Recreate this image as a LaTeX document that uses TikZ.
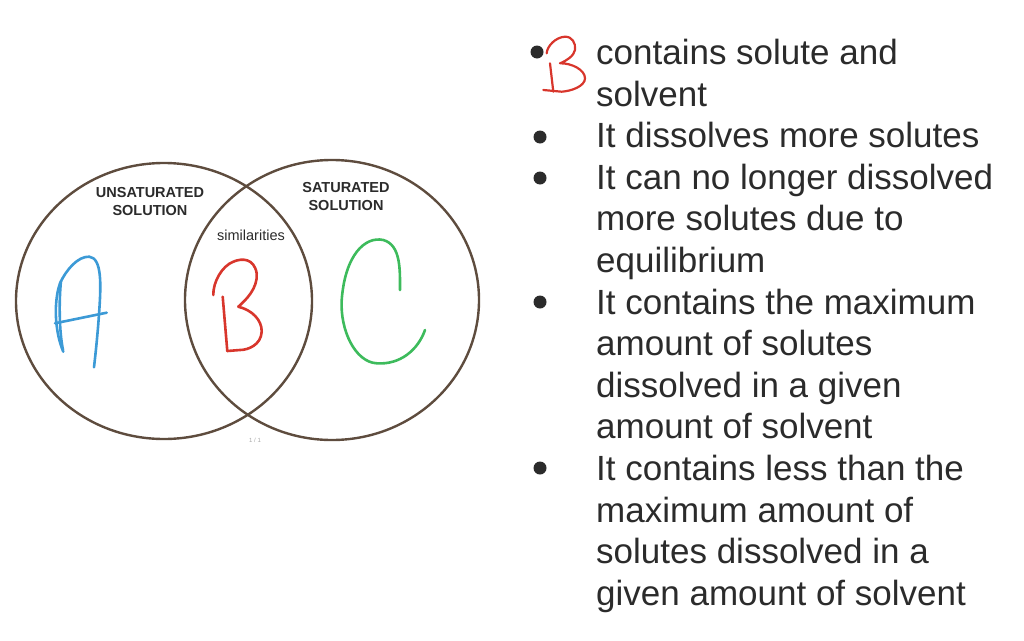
\documentclass[tikz,border=0pt]{standalone}
\usepackage{fontspec}
\setmainfont{Liberation Sans}
\definecolor{ring}{HTML}{5E4C3E}
\definecolor{txt}{HTML}{2B2B2B}
\definecolor{penblue}{HTML}{3C9AD6}
\definecolor{penred}{HTML}{D8362C}
\definecolor{pengreen}{HTML}{3DBB5C}
\tikzset{
  ring/.style={draw=ring, line width=2.4pt},
  vlabel/.style={font=\fontsize{14.5}{18}\selectfont\bfseries, text=txt, align=center, inner sep=0pt},
  line/.style={font=\fontsize{35}{41.6}\selectfont, text=txt, anchor=base west, inner sep=0pt},
  bulletdot/.style={circle, fill=txt, minimum size=13pt, inner sep=0pt},
  pen/.style={line width=2.6pt, line cap=round, line join=round},
}
\begin{document}
\begin{tikzpicture}[x=1pt,y=-1pt]
\useasboundingbox (0,0) rectangle (1024,640);
% Venn
\draw[ring] (164,301) ellipse [x radius=148, y radius=138];
\draw[ring] (332,300) ellipse [x radius=147, y radius=140];
\node[vlabel] (unsat) at (150,202) {UNSATURATED\\SOLUTION};
\node[vlabel] (sat) at (346,197) {SATURATED\\SOLUTION};
\node[font=\fontsize{14.5}{17}\selectfont, text=txt, inner sep=0pt] (sim) at (251,235) {similarities};
\node[font=\fontsize{6}{7}\selectfont, text=black!35, inner sep=0pt] (page) at (255,440) {1 / 1};
% handwritten A
\draw[pen, penblue] (63.3,351.7) .. controls (54,330) and (54,300) .. (60,283.3)
   .. controls (66,270) and (78,256) .. (89.3,256.7)
   .. controls (102,258) and (101,285) .. (99.3,310)
   .. controls (98,330) and (96,350) .. (94,367.3);
\draw[pen, penblue] (61,281) .. controls (59,300) and (59,330) .. (63,350);
\draw[pen, penblue] (55,323.3) -- (106.7,312.7);
% handwritten B
\draw[pen, penred] (222.7,296.7) -- (227.3,351);
\draw[pen, penred] (213.3,295) .. controls (213,282) and (222,266) .. (233.3,261.7)
   .. controls (242,258) and (254,258) .. (256.7,273.3)
   .. controls (258,288) and (246,300) .. (238.3,306.7)
   .. controls (252,310) and (262,320) .. (261.7,331.7)
   .. controls (261,345) and (248,350) .. (240,350)
   -- (227.3,351);
% handwritten C
\draw[pen, pengreen] (400,290) .. controls (400,270) and (401,245) .. (383.3,240)
   .. controls (365,236) and (345,255) .. (341.7,300)
   .. controls (340,330) and (355,362) .. (376.7,363.3)
   .. controls (400,365) and (418,350) .. (425,330);
% bullets
\node[bulletdot] (b1) at (537,52) {};
\node[bulletdot] (b2) at (540,137) {};
\node[bulletdot] (b3) at (540,178) {};
\node[bulletdot] (b4) at (540,302) {};
\node[bulletdot] (b5) at (540,468) {};
% red B next to first bullet
\draw[pen, penred, line width=2.2pt] (550,63.3) -- (553.3,91.7);
\draw[pen, penred, line width=2.2pt] (546.7,53.3) .. controls (547,46) and (556,37) .. (565,36.7)
   .. controls (572,36.5) and (576,43) .. (575,50)
   .. controls (574,56) and (566,61) .. (560,63.3)
   .. controls (572,63) and (585,70) .. (585,78.3)
   .. controls (585,86) and (572,91) .. (561.7,91.7)
   -- (543.3,90);
% text lines
\node[line] (l1) at (596,64.5) {contains solute and};
\node[line] (l2) at (596,106.1) {solvent};
\node[line] (l3) at (596,147.7) {It dissolves more solutes};
\node[line] (l4) at (596,189.3) {It can no longer dissolved};
\node[line] (l5) at (596,230.9) {more solutes due to};
\node[line] (l6) at (596,272.5) {equilibrium};
\node[line] (l7) at (596,314.1) {It contains the maximum};
\node[line] (l8) at (596,355.7) {amount of solutes};
\node[line] (l9) at (596,397.3) {dissolved in a given};
\node[line] (l10) at (596,438.9) {amount of solvent};
\node[line] (l11) at (596,480.5) {It contains less than the};
\node[line] (l12) at (596,522.1) {maximum amount of};
\node[line] (l13) at (596,563.7) {solutes dissolved in a};
\node[line] (l14) at (596,605.3) {given amount of solvent};
\end{tikzpicture}
\end{document}
